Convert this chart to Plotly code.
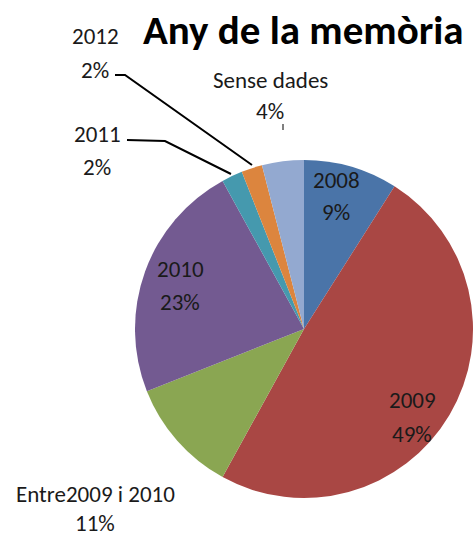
import plotly.graph_objects as go

labels = ["2008", "2009", "Entre2009 i 2010", "2010", "2011", "2012", "Sense dades"]
percents = [9, 49, 11, 23, 2, 2, 4]
colors = ["#4a74a8", "#a94744", "#8aa652", "#735a91", "#4599ae", "#dc853e", "#93a9d0"]

W, H = 473, 539
FONT = "Carlito, Calibri, Lato, sans-serif"


def px(x, y):
    # pixel position -> paper coords
    return x / W, 1 - y / H


fig = go.Figure()

fig.add_trace(go.Pie(
    labels=labels,
    values=percents,
    marker=dict(colors=colors, line=dict(width=0)),
    sort=False,
    direction="clockwise",
    rotation=0,
    textinfo="none",
    hoverinfo="label+percent",
    domain=dict(x=[(304 - 169) / W, 1.0], y=[(H - 329 - 169) / H, (H - 329 + 169) / H]),
    showlegend=False,
))

# label positions (pixel centres of the name line / percent line)
label_pos = {
    "2008": (336, 180, 212),
    "2009": (412, 400, 434),
    "Entre2009 i 2010": (95, 494, 523),
    "2010": (180, 269, 302),
    "2011": (97, 134, 167),
    "2012": (95, 36, 70),
    "Sense dades": (270, 80, 111),
}

annotations = []
for lab, pct in zip(labels, percents):
    x, y1, y2 = label_pos[lab]
    for txt, y in ((lab, y1), (f"{pct}%", y2)):
        ax, ay = px(x, y)
        annotations.append(dict(
            x=ax, y=ay, xref="paper", yref="paper", text=txt, showarrow=False,
            xanchor="center", yanchor="middle",
            font=dict(family=FONT, size=23, color="#1a1a1a"),
        ))

tx, ty = px(303, 30)
annotations.append(dict(
    x=tx, y=ty, xref="paper", yref="paper", text="<b>Any de la memòria</b>",
    showarrow=False, xanchor="center", yanchor="middle",
    font=dict(family=FONT, size=41, color="#000000"),
))

# leader lines for the small slices
def path(points):
    pts = [px(x, y) for x, y in points]
    return "M " + " L ".join(f"{a},{b}" for a, b in pts)


shapes = [
    dict(type="path", xref="paper", yref="paper", path=path([(115, 75), (125, 75), (252, 165)]),
         line=dict(color="#000000", width=2)),
    dict(type="path", xref="paper", yref="paper", path=path([(127, 140), (165, 141), (231, 174)]),
         line=dict(color="#000000", width=2)),
    dict(type="path", xref="paper", yref="paper", path=path([(283, 124), (283, 130)]),
         line=dict(color="#000000", width=1)),
]

fig.update_layout(
    width=W, height=H,
    margin=dict(l=0, r=0, t=0, b=0),
    paper_bgcolor="white",
    plot_bgcolor="white",
    annotations=annotations,
    shapes=shapes,
)

fig.write_html("out.html", config={"displayModeBar": False},
               post_script="document.body.style.margin='0';")
